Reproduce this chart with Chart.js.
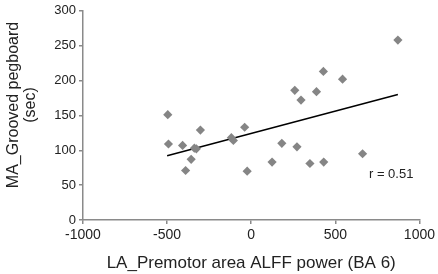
<!DOCTYPE html>
<html>
<head>
<meta charset="utf-8">
<script src="https://cdn.jsdelivr.net/npm/chart.js@4/dist/chart.umd.min.js"></script>
<style>
html,body{margin:0;padding:0;background:#fff;}
#wrap{width:438px;height:274px;position:relative;}
</style>
</head>
<body>
<div id="wrap"><canvas id="c" width="438" height="274"></canvas></div>
<script>
// Data
const alffPower = [-496, -492, -408, -390, -357, -338, -326, -302, -118, -106, -39, -24,
                   124, 182, 272, 259, 296, 349, 388, 429, 431, 543, 662, 872];
const pegboardSec = [151, 109, 107, 71, 87, 103, 102, 129, 118, 114, 133, 70,
                     83, 110, 105, 186, 172, 81, 184, 213, 83, 202, 95, 258];
const trendX = [-500, 872];
const trendY = [92, 180];
const xTicks = [-1000, -500, 0, 500, 1000];
const yTicks = [0, 50, 100, 150, 200, 250, 300];
const rLabel = 'r = 0.51';
const rLabelPos = [700, 66];
const xTitle = 'LA_Premotor area ALFF power (BA 6)';
const yTitle = ['MA_Grooved pegboard', '(sec)'];

const FONT = "'Liberation Sans', Arial, sans-serif";
const points = alffPower.map((x, i) => ({x: x, y: pegboardSec[i]}));
const trend = trendX.map((x, i) => ({x: x, y: trendY[i]}));

const annot = {
  id: 'annot',
  afterDraw(chart) {
    const ctx = chart.ctx;
    const xs = chart.scales.x, ys = chart.scales.y;
    ctx.save();
    ctx.fillStyle = '#222';
    ctx.font = '13px ' + FONT;
    ctx.textAlign = 'left';
    ctx.textBaseline = 'middle';
    ctx.fillText(rLabel, xs.getPixelForValue(rLabelPos[0]), ys.getPixelForValue(rLabelPos[1]));
    // y axis title
    ctx.font = '16px ' + FONT;
    ctx.textAlign = 'center';
    ctx.translate(0, 105);
    ctx.rotate(-Math.PI / 2);
    ctx.fillText(yTitle[0], 0, 13.5);
    ctx.fillText(yTitle[1], 0, 31);
    ctx.restore();
  }
};

new Chart(document.getElementById('c'), {
  type: 'scatter',
  data: {
    datasets: [
      {
        label: 'trend',
        type: 'line',
        data: trend,
        borderColor: '#000',
        borderWidth: 1.5,
        pointRadius: 0,
        fill: false,
        order: 2
      },
      {
        label: 'data',
        data: points,
        pointStyle: 'rectRot',
        pointRadius: 4.6,
        pointBackgroundColor: '#858585',
        pointBorderColor: '#858585',
        pointBorderWidth: 0,
        order: 1
      }
    ]
  },
  options: {
    responsive: false,
    animation: false,
    devicePixelRatio: 1,
    layout: {padding: {top: 7, right: 15, left: 0, bottom: 0}},
    plugins: {legend: {display: false}, tooltip: {enabled: false}},
    scales: {
      x: {
        type: 'linear',
        min: -1000, max: 1000,
        afterBuildTicks: s => { s.ticks = xTicks.map(v => ({value: v})); },
        afterFit: s => { s.height = 54; },
        grid: {drawOnChartArea: false, drawTicks: true, tickLength: 4, color: '#8a8a8a', lineWidth: 1.5},
        border: {color: '#8a8a8a', width: 1.5},
        ticks: {color: '#222', font: {family: FONT, size: 14}, padding: 3, maxRotation: 0,
                callback: v => String(v)},
        title: {display: true, text: xTitle, color: '#222', font: {family: FONT, size: 17}, padding: {top: 4, bottom: 0}}
      },
      y: {
        type: 'linear',
        min: 0, max: 300,
        afterBuildTicks: s => { s.ticks = yTicks.map(v => ({value: v})); },
        afterFit: s => { s.width = 83; },
        grid: {drawOnChartArea: false, drawTicks: true, tickLength: 4, color: '#8a8a8a', lineWidth: 1.5},
        border: {color: '#8a8a8a', width: 1.5},
        ticks: {color: '#222', font: {family: FONT, size: 13}, padding: 3, callback: v => String(v)}
      }
    }
  },
  plugins: [annot]
});
</script>
</body>
</html>
